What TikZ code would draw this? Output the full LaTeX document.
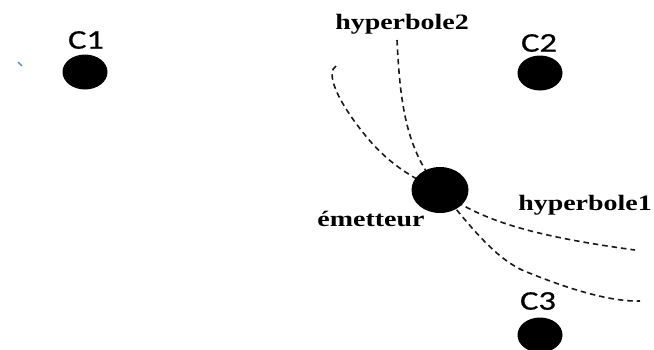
\documentclass[tikz,border=0pt]{standalone}
\usepackage{fontspec}
\usetikzlibrary{shapes.geometric}
\newfontfamily\clabfont[FakeStretch=1.28,FakeBold=0.6]{Carlito}
\newfontfamily\hlabfont[FakeStretch=1.27]{Liberation Serif}
\tikzset{
  dot/.style={ellipse, fill=black, draw=none, minimum width=45pt, minimum height=35pt, inner sep=0pt},
  bigdot/.style={ellipse, fill=black, draw=none, minimum width=57pt, minimum height=46pt, inner sep=0pt},
  clab/.style={font=\clabfont\fontsize{27}{30}\selectfont, inner sep=0pt},
  hlab/.style={font=\hlabfont\bfseries\fontsize{22}{26}\selectfont, inner sep=0pt},
  hyp/.style={draw=black!90, line width=1.6pt, dash pattern=on 5.5pt off 4pt}
}
\begin{document}
\begin{tikzpicture}[x=1pt,y=-1pt]
\useasboundingbox (0,0) rectangle (654,349);
% curves
\coordinate (a0) at (336,66);
\coordinate (a1) at (640,301);
\coordinate (b0) at (397,40);
\coordinate (b1) at (635,250);
\coordinate (e) at (440,190);
\draw[hyp] (a0) .. controls (326,72) and (335,98) .. (365,135)
  .. controls (385,160) and (410,178) .. (e)
  .. controls (462,215) and (490,255) .. (522,270)
  .. controls (565,288) and (610,302) .. (a1);
\draw[hyp] (b0) .. controls (400,100) and (405,150) .. (e)
  .. controls (480,222) and (540,237) .. (b1);
% dots
\node[dot] (c1) at (85,72) {};
\node[dot] (c2) at (540,73) {};
\node[dot] (c3) at (540,335) {};
\node[bigdot] (em) at (440,190) {};
% labels
\node[clab] (lc1) at (86,40) {C1};
\node[clab] (lc2) at (539,43) {C2};
\node[clab] (lc3) at (538,301) {C3};
\node[hlab] (lh2) at (402,24) {hyperbole2};
\node[hlab] (lh1) at (585,205) {hyperbole1};
\node[hlab] (lem) at (371,219) {émetteur};
% small blue tick
\coordinate (t0) at (18,62);
\coordinate (t1) at (22,66);
\draw[color={rgb,255:red,70;green,130;blue,200}, line width=1.3pt] (t0) -- (t1);
\end{tikzpicture}
\end{document}
